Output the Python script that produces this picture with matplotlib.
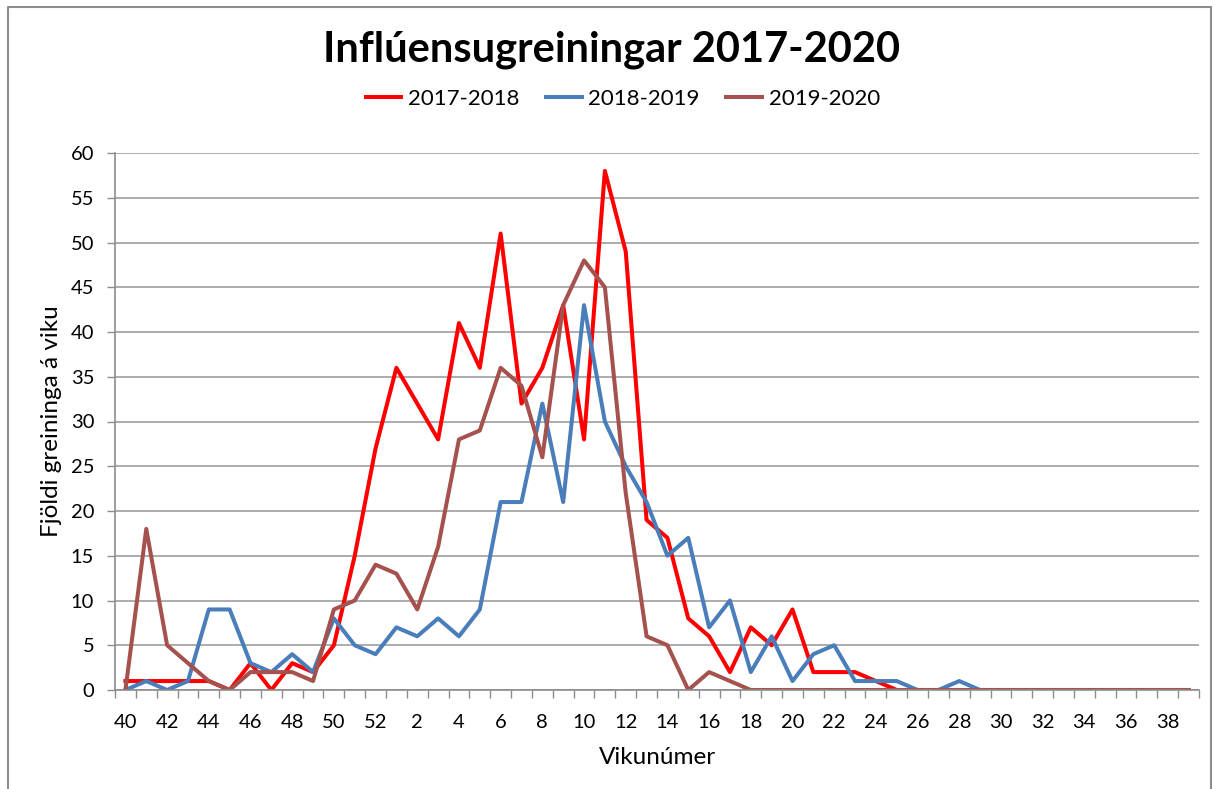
import numpy as np
import matplotlib.pyplot as plt
from matplotlib.lines import Line2D
from matplotlib.ticker import FixedLocator, NullFormatter

plt.rcParams['font.family'] = ['Lato', 'DejaVu Sans']

weeks = list(range(40, 53)) + list(range(1, 40))
s1718 = [1, 1, 1, 1, 1, 0, 3, 0, 3, 2, 5, 15, 27,
         36, 32, 28, 41, 36, 51, 32, 36, 43, 28, 58, 49, 19,
         17, 8, 6, 2, 7, 5, 9, 2, 2, 2, 1, 0, 0,
         0, 0, 0, 0, 0, 0, 0, 0, 0, 0, 0, 0, 0]
s1819 = [0, 1, 0, 1, 9, 9, 3, 2, 4, 2, 8, 5, 4,
         7, 6, 8, 6, 9, 21, 21, 32, 21, 43, 30, 25, 21,
         15, 17, 7, 10, 2, 6, 1, 4, 5, 1, 1, 1, 0,
         0, 1, 0, 0, 0, 0, 0, 0, 0, 0, 0, 0, 0]
s1920 = [0, 18, 5, 3, 1, 0, 2, 2, 2, 1, 9, 10, 14,
         13, 9, 16, 28, 29, 36, 34, 26, 43, 48, 45, 22, 6,
         5, 0, 2, 1, 0, 0, 0, 0, 0, 0, 0, 0, 0,
         0, 0, 0, 0, 0, 0, 0, 0, 0, 0, 0, 0, 0]
series = {'2017-2018': (s1718, '#FF0000'),
          '2018-2019': (s1819, '#4A7EBB'),
          '2019-2020': (s1920, '#A5524F')}

W, H = 1214, 789
fig = plt.figure(figsize=(W/100, H/100), dpi=100)
# outer chart border (left, top, right; bottom runs off the image)
bx = [8/W, 8/W, 1211/W, 1211/W]
by = [-0.01, 1-7/H, 1-7/H, -0.01]
fig.add_artist(Line2D(bx, by, transform=fig.transFigure, color='#8c8c8c', lw=1.5))

ax = fig.add_axes([115/W, 1-690/H, 1084/W, 537/H])

x = np.arange(len(weeks))
for name, (vals, col) in series.items():
    ax.plot(x, vals, color=col, lw=2.9, label=name)

ax.set_xlim(-0.5, len(weeks)-0.5)
ax.set_ylim(0, 60)
ax.set_yticks(np.arange(0, 61, 5))
ax.yaxis.grid(True, color='#a6a6a6', lw=1.3)
ax.set_axisbelow(True)

ax.set_xticks(x[::2])
ax.set_xticklabels([str(w) for w in weeks[::2]])
ax.xaxis.set_minor_locator(FixedLocator(np.arange(-0.5, len(weeks), 1)))
ax.xaxis.set_minor_formatter(NullFormatter())
ax.tick_params(axis='x', which='major', length=0, pad=17, labelsize=14.5)
ax.tick_params(axis='x', which='minor', length=6, color='#8c8c8c', width=1)
ax.tick_params(axis='y', length=6, color='#8c8c8c', width=1, labelsize=14.5, pad=9)

for s in ['top', 'right']:
    ax.spines[s].set_visible(False)
for s in ['left', 'bottom']:
    ax.spines[s].set_color('#8c8c8c')
    ax.spines[s].set_linewidth(1.2)

ax.set_xlabel('Vikunúmer', fontsize=17.5, labelpad=12)
ax.set_ylabel('Fjöldi greininga á viku', fontsize=17.5, labelpad=6)

fig.text(0.504, 1-50/H, 'Inflúensugreiningar 2017-2020', ha='center', va='center',
         fontsize=30, fontweight='bold')
fig.legend(loc='center', bbox_to_anchor=(0.513, 1-99/H), ncol=3, frameon=False,
           fontsize=16, handlelength=1.6, handletextpad=0.3, columnspacing=1.2)

plt.savefig('out.png', dpi=100)
